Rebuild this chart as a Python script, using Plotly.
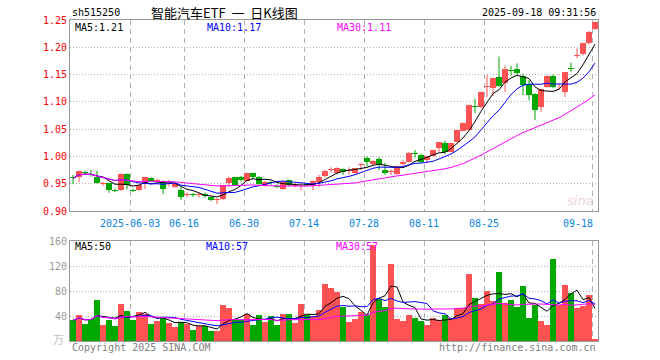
import plotly.graph_objects as go
import pandas as pd

# ---------------- data ----------------
opens = [0.963, 0.963, 0.972, 0.968, 0.963, 0.950, 0.951, 0.939, 0.938, 0.968,
         0.939, 0.938, 0.949, 0.961, 0.955, 0.954, 0.950, 0.944, 0.9385, 0.929,
         0.931, 0.929, 0.932, 0.926, 0.921, 0.9214, 0.9507, 0.962, 0.963, 0.9555,
         0.969, 0.962, 0.947, 0.953, 0.946, 0.941, 0.956, 0.946, 0.945, 0.950,
         0.946, 0.954, 0.964, 0.975, 0.969, 0.977, 0.973, 0.970, 0.984, 0.998,
         0.986, 0.996, 0.976, 0.971, 0.968, 0.987, 0.990, 1.006, 1.003, 0.993,
         1.001, 1.015, 1.024, 1.009, 1.027, 1.047, 1.048, 1.093, 1.090, 1.128,
         1.125, 1.145, 1.134, 1.158, 1.160, 1.148, 1.132, 1.114, 1.091, 1.1277,
         1.1473, 1.130, 1.1186, 1.162, 1.184, 1.187, 1.2072, 1.2334]
highs = [0.966, 0.974, 0.974, 0.975, 0.974, 0.953, 0.952, 0.941, 0.969, 0.969,
         0.941, 0.948, 0.962, 0.962, 0.959, 0.956, 0.957, 0.951, 0.9445, 0.934,
         0.933, 0.934, 0.934, 0.927, 0.924, 0.948, 0.963, 0.963, 0.964, 0.970,
         0.970, 0.964, 0.955, 0.955, 0.949, 0.956, 0.958, 0.950, 0.952, 0.951,
         0.956, 0.966, 0.975, 0.980, 0.980, 0.978, 0.980, 0.979, 0.988, 1.000,
         0.993, 0.999, 0.9885, 0.976, 0.983, 0.993, 1.008, 1.012, 1.005, 1.001,
         1.012, 1.026, 1.029, 1.025, 1.049, 1.062, 1.095, 1.106, 1.119, 1.149,
         1.143, 1.183, 1.166, 1.166, 1.1705, 1.152, 1.140, 1.116, 1.124, 1.149,
         1.150, 1.134, 1.155, 1.172, 1.198, 1.208, 1.230, 1.247]
lows = [0.949, 0.953, 0.967, 0.963, 0.950, 0.946, 0.9335, 0.935, 0.937, 0.940,
        0.935, 0.937, 0.940, 0.953, 0.953, 0.931, 0.945, 0.943, 0.920, 0.925,
        0.926, 0.925, 0.924, 0.918, 0.913, 0.920, 0.946, 0.947, 0.954, 0.954,
        0.958, 0.947, 0.945, 0.948, 0.942, 0.939, 0.945, 0.943, 0.938, 0.945,
        0.938, 0.944, 0.962, 0.971, 0.967, 0.966, 0.967, 0.968, 0.975, 0.982,
        0.984, 0.975, 0.966, 0.966, 0.966, 0.984, 0.989, 0.998, 0.988, 0.9874,
        1.000, 1.0087, 1.0044, 1.008, 1.026, 1.046, 1.047, 1.079, 1.088, 1.109,
        1.111, 1.1277, 1.1186, 1.148, 1.150, 1.1125, 1.103, 1.067, 1.082, 1.126,
        1.125, 1.122, 1.109, 1.155, 1.1797, 1.185, 1.205, 1.232]
closes = [0.960, 0.973, 0.969, 0.967, 0.952, 0.951, 0.938, 0.937, 0.968, 0.948,
          0.937, 0.947, 0.962, 0.955, 0.957, 0.940, 0.952, 0.949, 0.926, 0.931,
          0.929, 0.931, 0.927, 0.920, 0.922, 0.9476, 0.960, 0.948, 0.956, 0.969,
          0.963, 0.950, 0.953, 0.951, 0.944, 0.953, 0.948, 0.947, 0.946, 0.948,
          0.955, 0.963, 0.974, 0.976, 0.979, 0.972, 0.975, 0.978, 0.986, 0.989,
          0.991, 0.984, 0.969, 0.973, 0.982, 0.989, 1.007, 1.004, 0.990, 1.001,
          1.012, 1.026, 1.009, 1.024, 1.048, 1.062, 1.094, 1.091, 1.1186, 1.129,
          1.143, 1.129, 1.161, 1.157, 1.153, 1.130, 1.1125, 1.085, 1.1235, 1.1473,
          1.1277, 1.131, 1.154, 1.161, 1.1858, 1.2078, 1.2285, 1.2457]
volumes = [33.1, 41, 27.7, 35.8, 65, 25, 33, 23.5, 58.7, 47.5,
           33, 46.4, 43.8, 26.7, 31.5, 37.3, 28.8, 22.4, 30, 27.7,
           17, 23.5, 23.5, 16, 16, 57, 52.3, 33.8, 33.8, 42.7,
           25, 41, 30, 40, 25, 42.7, 42.7, 29.5, 58.7, 41,
           39.5, 49, 90.7, 84.8, 78.4, 54.4, 30.4, 34.7, 46.4, 41,
           153, 67.8, 54.4, 122.7, 34.7, 32, 41, 37.3, 31.5, 25,
           37.3, 33, 41, 37.3, 53.3, 53.3, 106.7, 68.3, 58.7, 79.5,
           63.5, 110, 60.8, 65, 54.4, 87.5, 36.7, 57, 32, 25,
           130.7, 57, 89, 76.8, 52.8, 55.5, 73, 2.7]

date_labels = ["2025-06-03", "06-16", "06-30", "07-14", "07-28", "08-11", "08-25", "09-18"]
date_index = [10, 19, 29, 39, 49, 59, 69, 87]
price_ticks = [0.90, 0.95, 1.00, 1.05, 1.10, 1.15, 1.20, 1.25]
volume_ticks = [40, 80, 120, 160]

title_code = "sh515250"
title_name = "智能汽车ETF&nbsp;&nbsp;一&nbsp;&nbsp;日K线图"
title_time = "2025-09-18 09:31:56"
price_ma_text = ["MA5:1.21", "MA10:1.17", "MA30:1.11"]
volume_ma_text = ["MA5:50", "MA10:57", "MA30:57"]

# ---------------- styles ----------------
UP = "#ff5252"
DOWN = "#00a800"
MA_COLORS = ["#000000", "#0000ff", "#ff00ff"]
MONO = "DejaVu Sans Mono"
CJK = "Noto Sans CJK SC"

n = len(closes)
idx = list(range(n))
cols = [UP if c >= o else DOWN for o, c in zip(opens, closes)]
body_lo = [min(o, c) for o, c in zip(opens, closes)]
body_h = [max(abs(c - o), 0.0016) for o, c in zip(opens, closes)]

cs = pd.Series(closes)
vs = pd.Series(volumes)
price_ma = [cs.rolling(w, min_periods=1).mean() for w in (5, 10, 30)]
vol_ma = [vs.rolling(w, min_periods=1).mean() for w in (5, 10, 30)]

fig = go.Figure()

# wicks
for color in (UP, DOWN):
    wx, wy = [], []
    for i in idx:
        if cols[i] == color:
            wx += [i, i, None]
            wy += [lows[i], highs[i], None]
    fig.add_trace(go.Scatter(x=wx, y=wy, mode="lines", line=dict(color=color, width=1),
                             hoverinfo="skip", xaxis="x", yaxis="y"))

# bodies
fig.add_trace(go.Bar(x=idx, y=body_h, base=body_lo, marker=dict(color=cols, line=dict(width=0)),
                     width=0.84, xaxis="x", yaxis="y"))

for ma, color in zip(price_ma, MA_COLORS):
    fig.add_trace(go.Scatter(x=idx, y=ma, mode="lines", line=dict(color=color, width=1),
                             xaxis="x", yaxis="y"))

# volume
fig.add_trace(go.Bar(x=idx, y=volumes, marker=dict(color=cols, line=dict(width=0)),
                     width=0.84, xaxis="x2", yaxis="y2"))
for ma, color in zip(vol_ma, MA_COLORS):
    fig.add_trace(go.Scatter(x=idx, y=ma, mode="lines", line=dict(color=color, width=1),
                             xaxis="x2", yaxis="y2"))

# ---------------- layout ----------------
W, H = 660, 360
L, R, T, B = 70, 62, 20, 19
PW, PH = W - L - R, H - T - B


def px(x):
    return (x - L) / PW


def py(y):
    return (H - B - y) / PH


grid_x = [i - 0.5 for i in date_index]
xcommon = dict(range=[-0.5, n - 0.5], tickvals=grid_x, showticklabels=False, ticks="",
               showgrid=True, gridcolor="#b0b0b0", griddash="5px,4px", gridwidth=1,
               showline=True, mirror=True, linecolor="#999999", linewidth=1, zeroline=False)

fig.update_layout(
    width=W, height=H, margin=dict(l=L, r=R, t=T, b=B),
    paper_bgcolor="white", plot_bgcolor="white", showlegend=False,
    bargap=0, barmode="overlay", hovermode=False,
    xaxis=dict(domain=[0, 1], anchor="y", **xcommon),
    xaxis2=dict(domain=[0, 1], anchor="y2", matches="x", **xcommon),
    yaxis=dict(domain=[py(211), 1], anchor="x", range=[0.90, 1.25], tickvals=price_ticks,
               ticktext=["%.2f" % v for v in price_ticks],
               tickfont=dict(family=MONO, size=10, color="#ff0000"), ticks="",
               showgrid=True, gridcolor="#b0b0b0", griddash="1px,2px",
               showline=True, mirror=True, linecolor="#999999", zeroline=False),
    yaxis2=dict(domain=[0, py(241)], anchor="x2", range=[0, 160], tickvals=volume_ticks,
                tickfont=dict(family=MONO, size=10, color="#999999"), ticks="",
                showgrid=True, gridcolor="#b0b0b0", griddash="1px,2px",
                showline=True, mirror=True, linecolor="#999999", zeroline=False),
)

ann = []


def text(x, y, s, color="#000000", size=10, family=MONO, xanchor="left", **kw):
    ann.append(dict(x=px(x), y=py(y), xref="paper", yref="paper", text=s, showarrow=False,
                    xanchor=xanchor, yanchor="middle",
                    font=dict(family=family, size=size, color=color), **kw))


text(70, 12, title_code)
text(224, 12, title_name, size=13, family=CJK, xanchor="center")
text(598, 12, title_time, xanchor="right")

for s, x, c in zip(price_ma_text, (73, 205, 335), MA_COLORS):
    text(x, 27, s, color=c)
for s, x, c in zip(volume_ma_text, (73, 204, 334), MA_COLORS):
    text(x, 246, s, color=c)

# date labels on the shared time axis
for lab, i in zip(date_labels, date_index):
    last = i == date_index[-1]
    ann.append(dict(x=i - 0.5 + (0.5 if last else 0), y=py(223), xref="x", yref="paper",
                    text=lab, showarrow=False, xanchor="right" if last else "center",
                    yanchor="middle", font=dict(family=MONO, size=10, color="#0a84e6")))

text(66, 339, "万", color="#c0c0c0", size=11, family=CJK, xanchor="right")
text(70, 347, "Copyright 2025 SINA.COM", color="#808080")
text(598, 347, "http://finance.sina.com.cn", color="#808080", xanchor="right")
text(596, 201, "<i>sina</i>", color="#ecd6d6", size=13, family="DejaVu Sans", xanchor="right")

fig.update_layout(annotations=ann)
fig.write_html("out.html", config={"displayModeBar": False, "staticPlot": True},
               post_script="document.body.style.margin='0';")
